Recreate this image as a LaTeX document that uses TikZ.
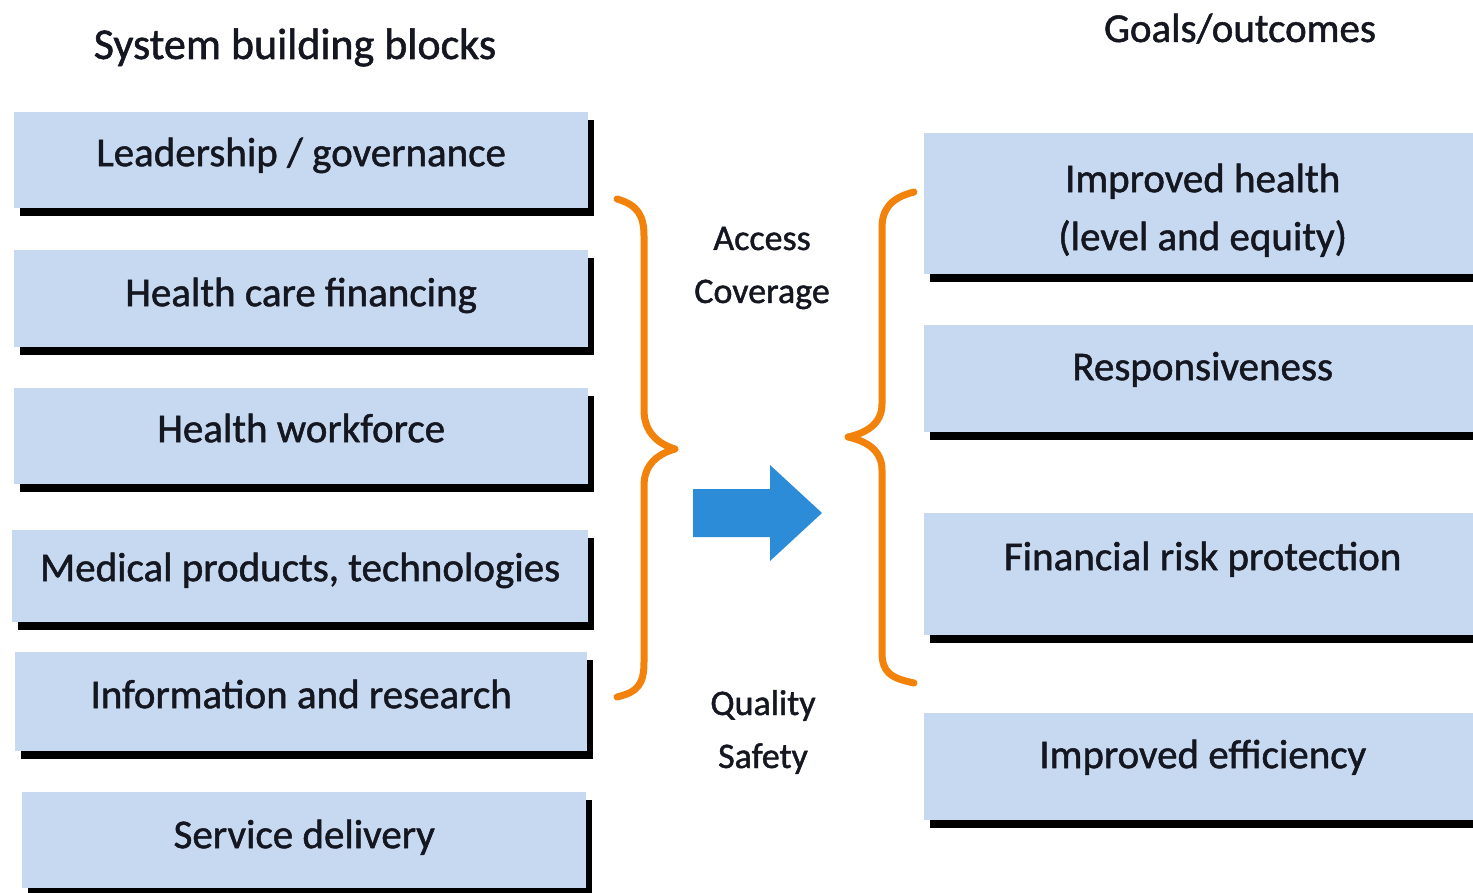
\documentclass[tikz,border=0pt]{standalone}
\usepackage{fontspec}
\setmainfont{Carlito}[FakeBold=1.2]
\usetikzlibrary{shadows}
\definecolor{boxblue}{RGB}{198,217,241}
\definecolor{braceorange}{RGB}{242,130,10}
\definecolor{arrowblue}{RGB}{45,140,215}
\definecolor{ink}{RGB}{20,22,32}
\newfontfamily\heavyfont{Carlito}[FakeBold=1.2]
\tikzset{
  blk/.style={rectangle, fill=boxblue, inner sep=0pt, anchor=north west,
    text=ink, font=\heavyfont\fontsize{41}{58}\selectfont,
    drop shadow={shadow xshift=6pt, shadow yshift=-8pt, fill=black, opacity=1}},
  ttl/.style={anchor=base, text=ink, inner sep=0pt},
  midtxt/.style={anchor=base, text=ink, inner sep=0pt, font=\heavyfont\fontsize{36}{53}\selectfont},
  bracestyle/.style={draw=braceorange, line width=7pt, line cap=round, line join=round},
}
\begin{document}
\begin{tikzpicture}[x=1pt, y=-1pt]
\useasboundingbox (0,0) rectangle (1473,893);
\clip (0,0) rectangle (1473,893);
\fill[white] (0,0) rectangle (1473,893);

% titles
\node[ttl, font=\heavyfont\fontsize{44}{52}\selectfont] (tl) at (295,59) {System building blocks};
\node[ttl, font=\heavyfont\fontsize{41}{50}\selectfont] (tr) at (1240,42) {Goals/outcomes};

% left blocks
\node[blk, minimum width=574pt, text height=54pt, text depth=42pt] (b1) at (14,112) {Leadership / governance};
\node[blk, minimum width=574pt, text height=56pt, text depth=41pt] (b2) at (14,250) {Health care financing};
\node[blk, minimum width=574pt, text height=54pt, text depth=42pt] (b3) at (14,388) {Health workforce};
\node[blk, minimum width=576pt, text height=51pt, text depth=41pt] (b4) at (12,530) {Medical products, technologies};
\node[blk, minimum width=572pt, text height=56pt, text depth=43pt] (b5) at (15,652) {Information and research};
\node[blk, minimum width=564pt, text height=56pt, text depth=40pt] (b6) at (22,792) {Service delivery};

% right blocks
\node[blk, minimum width=557pt, text height=59pt, text depth=82pt] (r1) at (924,133)
  {\begin{tabular}[t]{@{}c@{}}Improved health\\(level and equity)\end{tabular}};
\node[blk, minimum width=557pt, text height=55pt, text depth=52pt] (r2) at (924,325) {Responsiveness};
\node[blk, minimum width=557pt, text height=57pt, text depth=65pt] (r3) at (924,513) {Financial risk protection};
\node[blk, minimum width=557pt, text height=55pt, text depth=52pt] (r4) at (924,713) {Improved efficiency};

% middle texts
\node[midtxt] (ac) at (762,250) {\begin{tabular}[t]{@{}c@{}}Access\\Coverage\end{tabular}};
\node[midtxt] (qs) at (763,715) {\begin{tabular}[t]{@{}c@{}}Quality\\Safety\end{tabular}};

% braces
\draw[bracestyle] (617,199) .. controls (638,205) and (644,216) .. (644,236)
  -- (644,410) .. controls (644,432) and (658,444) .. (675,449)
  .. controls (658,454) and (644,464) .. (644,486)
  -- (644,662) .. controls (644,684) and (638,692) .. (617,697);
\draw[bracestyle] (914,192) .. controls (890,198) and (882,210) .. (882,228)
  -- (882,404) .. controls (882,424) and (866,433) .. (848,437)
  .. controls (866,441) and (882,450) .. (882,470)
  -- (882,652) .. controls (882,672) and (890,678) .. (914,683);

% arrow
\fill[arrowblue] (693,489) -- (770,489) -- (770,465) -- (822,513) -- (770,561)
  -- (770,537) -- (693,537) -- cycle;
\end{tikzpicture}
\end{document}
